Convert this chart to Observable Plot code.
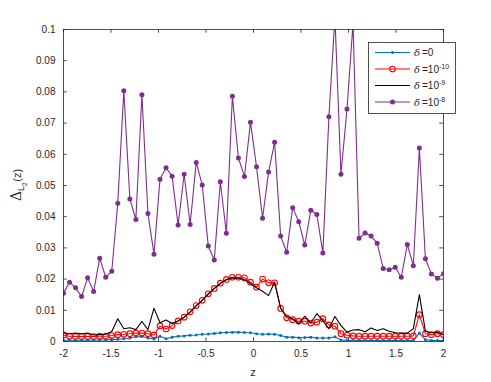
<!DOCTYPE html>
<html><head><meta charset="utf-8">
<script src="https://cdn.jsdelivr.net/npm/d3@7"></script>
<script src="https://cdn.jsdelivr.net/npm/@observablehq/plot@0.6"></script>
<style>
body{margin:0;background:#fff;}
svg{font-family:"Liberation Sans",Arial,Helvetica,sans-serif;}
</style>
</head><body><div id="chart"></div>
<script>
// sampling grid: 64 equally spaced points on [-2, 2]
const zGrid = d3.range(64).map(i => -2 + 4 * i / 63);

const xTicks = [-2, -1.5, -1, -0.5, 0, 0.5, 1, 1.5, 2];
const yTicks = [0, 0.01, 0.02, 0.03, 0.04, 0.05, 0.06, 0.07, 0.08, 0.09, 0.1];

const seriesNames = ["d0", "d1e-10", "d1e-9", "d1e-8"];
const seriesColors = ["#0072BD", "#FF0000", "#000000", "#7E2F8E"];
const legendExp = ["", "-10", "-9", "-8"];

const delta0 = [0.0004,0.0004,0.0004,0.0004,0.0004,0.0004,0.0005,0.0005,0.0006,0.0007,
  0.0009,0.0011,0.0015,0.0016,0.0011,0.0008,0.0017,0.0009,0.0014,0.0017,
  0.0018,0.0020,0.0021,0.0023,0.0024,0.0026,0.0028,0.0029,0.0030,0.0030,
  0.0029,0.0028,0.0025,0.0023,0.0024,0.0023,0.0019,0.0014,0.0014,0.0012,
  0.0013,0.0014,0.0011,0.0011,0.0011,0.0015,0.0005,0.0003,0.0003,0.0003,
  0.0003,0.0003,0.0003,0.0003,0.0003,0.0003,0.0003,0.0003,0.0003,0.0027,
  0.0006,0.0003,0.0003,0.0003];

const delta1e10 = [0.0021,0.0017,0.0016,0.0016,0.0016,0.0016,0.0017,0.0017,0.0019,0.0022,
  0.0023,0.0025,0.0027,0.0027,0.0025,0.0021,0.0050,0.0040,0.0051,0.0066,
  0.0078,0.0095,0.0115,0.0132,0.0153,0.0170,0.0187,0.0199,0.0206,0.0206,
  0.0204,0.0190,0.0174,0.0200,0.0188,0.0188,0.0106,0.0076,0.0070,0.0065,
  0.0065,0.0059,0.0062,0.0073,0.0053,0.0049,0.0025,0.0020,0.0018,0.0017,
  0.0017,0.0017,0.0017,0.0017,0.0017,0.0017,0.0017,0.0017,0.0018,0.0086,
  0.0025,0.0022,0.0025,0.0022];

const delta1e9 = [0.0027,0.0025,0.0027,0.0025,0.0027,0.0021,0.0022,0.0023,0.0032,0.0073,
  0.0041,0.0044,0.0038,0.0064,0.0038,0.0107,0.0060,0.0069,0.0058,0.0066,
  0.0078,0.0094,0.0114,0.0132,0.0152,0.0170,0.0186,0.0198,0.0204,0.0203,
  0.0198,0.0185,0.0172,0.0161,0.0147,0.0191,0.0107,0.0081,0.0073,0.0057,
  0.0081,0.0060,0.0089,0.0067,0.0041,0.0080,0.0051,0.0030,0.0037,0.0038,
  0.0031,0.0043,0.0035,0.0041,0.0033,0.0028,0.0027,0.0027,0.0041,0.0150,
  0.0033,0.0028,0.0030,0.0022];

const delta1e8 = [0.0155,0.0190,0.0172,0.0144,0.0204,0.0160,0.0267,0.0206,0.0225,0.0443,
  0.0804,0.0457,0.0391,0.0791,0.0410,0.0280,0.0520,0.0557,0.0530,0.0373,
  0.0536,0.0375,0.0574,0.0502,0.0306,0.0261,0.0512,0.0347,0.0786,0.0588,
  0.0529,0.0703,0.0560,0.0395,0.0543,0.0639,0.0338,0.0286,0.0429,0.0384,
  0.0309,0.0421,0.0407,0.0284,0.0720,0.1040,0.0536,0.0745,0.1020,0.0331,
  0.0348,0.0338,0.0315,0.0234,0.0230,0.0238,0.0206,0.0311,0.0243,0.0620,
  0.0265,0.0216,0.0203,0.0217];

const toRows = (vals) => vals.map((v, i) => ({z: zGrid[i], v}));
const r0 = toRows(delta0), r10 = toRows(delta1e10), r9 = toRows(delta1e9), r8 = toRows(delta1e8);

const axisCol = "#262626";
const tickLenY = 0.0012, tickLenX = 0.04;

const svg = Plot.plot({
  width: 491, height: 382,
  marginLeft: 63, marginRight: 48, marginTop: 29, marginBottom: 41,
  style: {fontSize: "10px", fontFamily: "'Liberation Sans', Arial, sans-serif", color: axisCol, background: "#fff"},
  x: {domain: [-2, 2]},
  y: {domain: [0, 0.1]},
  marks: [
    Plot.axisX({ticks: xTicks, tickSize: 0, tickPadding: 8, tickFormat: d => String(d), label: null, fill: axisCol}),
    Plot.axisY({ticks: yTicks, tickSize: 0, tickPadding: 8, tickFormat: d => String(d), label: null, fill: axisCol}),
    // inward tick marks on all four sides
    Plot.ruleX(xTicks, {x: d => d, y1: 0, y2: tickLenY, stroke: axisCol, strokeWidth: 0.8}),
    Plot.ruleX(xTicks, {x: d => d, y1: 0.1, y2: 0.1 - tickLenY, stroke: axisCol, strokeWidth: 0.8}),
    Plot.ruleY(yTicks, {y: d => d, x1: -2, x2: -2 + tickLenX, stroke: axisCol, strokeWidth: 0.8}),
    Plot.ruleY(yTicks, {y: d => d, x1: 2, x2: 2 - tickLenX, stroke: axisCol, strokeWidth: 0.8}),
    // delta = 0
    Plot.line(r0, {x: "z", y: "v", stroke: seriesColors[0], strokeWidth: 1.1, clip: true}),
    Plot.dot(r0, {x: "z", y: "v", r: 1.5, fill: seriesColors[0], clip: true}),
    // delta = 1e-10
    Plot.line(r10, {x: "z", y: "v", stroke: seriesColors[1], strokeWidth: 1.1, clip: true}),
    Plot.dot(r10, {x: "z", y: "v", r: 2.8, stroke: seriesColors[1], fill: "none", strokeWidth: 1.1, clip: true}),
    // delta = 1e-9
    Plot.line(r9, {x: "z", y: "v", stroke: seriesColors[2], strokeWidth: 1.1, clip: true}),
    // delta = 1e-8
    Plot.line(r8, {x: "z", y: "v", stroke: seriesColors[3], strokeWidth: 1.1, clip: true}),
    Plot.dot(r8, {x: "z", y: "v", r: 2.5, fill: seriesColors[3], clip: true}),
    Plot.frame({stroke: axisCol, strokeWidth: 0.8})
  ]
});

const s = d3.select(svg);
s.attr("overflow", "visible");

// x label
s.append("text").attr("x", 253).attr("y", 376).attr("text-anchor", "middle")
  .attr("font-size", 11).attr("fill", axisCol).text("z");

// y label: Δ_{L_2}(z)
const yl = s.append("text").attr("transform", "translate(21,185) rotate(-90)")
  .attr("text-anchor", "middle").attr("fill", axisCol).attr("font-size", 12);
yl.append("tspan").attr("font-family", "'DejaVu Serif', serif").attr("font-size", 14).text("\u0394");
yl.append("tspan").attr("font-size", 9).attr("dy", 3).text("L");
yl.append("tspan").attr("font-size", 6.5).attr("dy", 2.5).text("2");
yl.append("tspan").attr("font-size", 11).attr("dy", -5.5).attr("dx", 0.5).text("(z)");

// legend
const lg = s.append("g").attr("text-anchor", "start");
lg.append("rect").attr("x", 368.5).attr("y", 42.5).attr("width", 87).attr("height", 71)
  .attr("fill", "#fff").attr("stroke", axisCol).attr("stroke-width", 0.8);
const rowY = [52.5, 69, 85.5, 102];
seriesNames.forEach((name, i) => {
  const y = rowY[i];
  lg.append("line").attr("x1", 375).attr("x2", 410).attr("y1", y).attr("y2", y)
    .attr("stroke", seriesColors[i]).attr("stroke-width", 1.1);
  if (i === 0) lg.append("circle").attr("cx", 392.5).attr("cy", y).attr("r", 1.5).attr("fill", seriesColors[i]);
  if (i === 1) lg.append("circle").attr("cx", 392.5).attr("cy", y).attr("r", 2.8).attr("fill", "none")
    .attr("stroke", seriesColors[i]).attr("stroke-width", 1.1);
  if (i === 3) lg.append("circle").attr("cx", 392.5).attr("cy", y).attr("r", 2.5).attr("fill", seriesColors[i]);
  const t = lg.append("text").attr("x", 414).attr("y", y + 3.5).attr("font-size", 10)
    .attr("text-anchor", "start").attr("fill", axisCol);
  t.append("tspan").attr("font-family", "'DejaVu Serif', serif").attr("font-style", "italic").text("\u03B4");
  if (legendExp[i] === "") {
    t.append("tspan").attr("dx", 2).text("=0");
  } else {
    t.append("tspan").attr("dx", 2).text("=10");
    t.append("tspan").attr("font-size", 7).attr("dy", -4).text(legendExp[i]);
  }
});

document.getElementById("chart").appendChild(svg);
</script>
</body></html>
